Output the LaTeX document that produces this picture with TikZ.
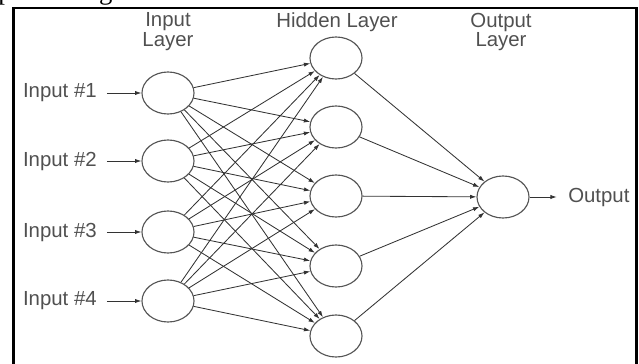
\documentclass[tikz,border=0pt]{standalone}
\usepackage{fontspec}
\setmainfont{Liberation Sans}
\newfontfamily\cutserif{Liberation Serif}
\usetikzlibrary{shapes.geometric,arrows.meta}

\definecolor{wireGray}{HTML}{333333}
\definecolor{ringGray}{HTML}{555555}
\definecolor{labelGray}{HTML}{505050}

\tikzset{
    neuron/.style={ellipse, draw=ringGray, line width=0.8pt, minimum width=1.3cm, minimum height=1.05cm, inner sep=0pt},
    weight/.style={wireGray, line width=0.6pt, -{Latex[length=4.5pt,width=3pt]}},
    tag/.style={text=labelGray, font=\fontsize{14.5}{14.2}\selectfont, inner sep=0pt},
}

\begin{document}
\begin{tikzpicture}[x=0.025cm, y=-0.025cm]
    \clip (0,0) rectangle (639,363);
    \node[anchor=base west, inner sep=0pt, font=\cutserif\fontsize{19}{20}\selectfont] (cut) at (-2,-1) {processing.};
    \draw[black, line width=1.8pt] (13.5,8) rectangle (636.5,390);

    % layer titles
    \node[tag, align=center] (inTitle) at (168,32) {Input\\Layer};
    \node[tag] (hidTitle) at (337,22) {Hidden Layer};
    \node[tag, align=center] (outTitle) at (501,32) {Output\\Layer};

    % neurons
    \node[neuron] (in1) at (168,93) {};
    \node[neuron] (in2) at (168,161) {};
    \node[neuron] (in3) at (168,232) {};
    \node[neuron] (in4) at (168,301) {};

    \node[neuron] (hid1) at (336,58) {};
    \node[neuron] (hid2) at (336,127) {};
    \node[neuron] (hid3) at (336,196) {};
    \node[neuron] (hid4) at (336,266) {};
    \node[neuron] (hid5) at (336,336) {};

    \node[neuron] (out) at (503,197) {};

    % inputs and output
    \node[tag, anchor=east] (lab1) at (97,93) {Input \#1};
    \node[tag, anchor=east] (lab2) at (97,161) {Input \#2};
    \node[tag, anchor=east] (lab3) at (97,232) {Input \#3};
    \node[tag, anchor=east] (lab4) at (97,301) {Input \#4};
    \node[tag, anchor=west] (res) at (568,197) {Output};

    \draw[weight, shorten <=7pt] (lab1) -- (in1);
    \draw[weight, shorten <=7pt] (lab2) -- (in2);
    \draw[weight, shorten <=7pt] (lab3) -- (in3);
    \draw[weight, shorten <=7pt] (lab4) -- (in4);
    \draw[weight, shorten >=8pt] (out) -- (res);

    % input to hidden
    \draw[weight] (in1) -- (hid1); \draw[weight] (in1) -- (hid2); \draw[weight] (in1) -- (hid3); \draw[weight] (in1) -- (hid4); \draw[weight] (in1) -- (hid5);
    \draw[weight] (in2) -- (hid1); \draw[weight] (in2) -- (hid2); \draw[weight] (in2) -- (hid3); \draw[weight] (in2) -- (hid4); \draw[weight] (in2) -- (hid5);
    \draw[weight] (in3) -- (hid1); \draw[weight] (in3) -- (hid2); \draw[weight] (in3) -- (hid3); \draw[weight] (in3) -- (hid4); \draw[weight] (in3) -- (hid5);
    \draw[weight] (in4) -- (hid1); \draw[weight] (in4) -- (hid2); \draw[weight] (in4) -- (hid3); \draw[weight] (in4) -- (hid4); \draw[weight] (in4) -- (hid5);

    % hidden to output
    \draw[weight] (hid1) -- (out);
    \draw[weight] (hid2) -- (out);
    \draw[weight] (hid3) -- (out);
    \draw[weight] (hid4) -- (out);
    \draw[weight] (hid5) -- (out);
\end{tikzpicture}
\end{document}
